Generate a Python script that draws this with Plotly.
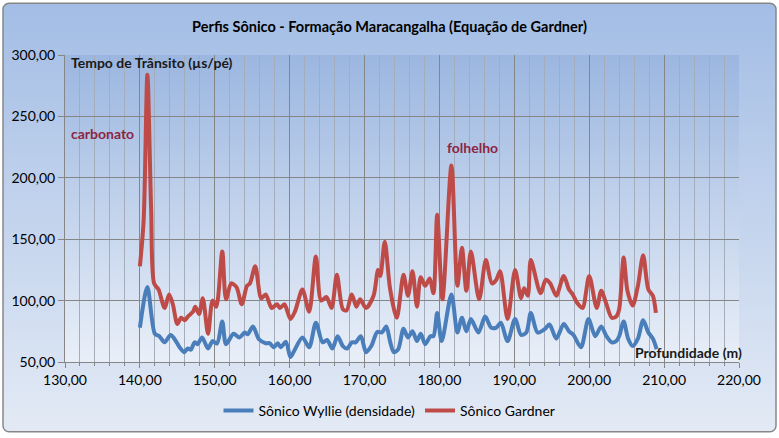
import base64
import plotly.graph_objects as go

# depth (m) and transit time (us/ft)
depth_wyllie = [140.0, 141.0, 142.0, 142.6, 143.3, 144.1, 144.6, 145.3, 145.9, 146.4, 146.8, 147.3, 147.7,
                148.3, 149.1, 149.7, 150.3, 151.0, 151.5, 152.5, 153.3, 154.0, 154.4, 155.1, 155.9, 156.8,
                157.3, 157.9, 158.4, 158.8, 159.5, 160.1, 160.6, 161.7, 162.6, 163.5, 164.4, 165.0, 165.7,
                166.4, 167.1, 167.7, 168.3, 168.8, 169.5, 170.2, 170.9, 171.7, 172.3, 172.9, 173.4, 173.9,
                174.5, 175.2, 175.8, 176.4, 177.0, 177.5, 178.1, 178.8, 179.2, 179.7, 180.3, 181.6, 182.4,
                183.0, 183.6, 184.2, 185.2, 186.1, 186.9, 187.6, 188.2, 189.1, 190.1, 190.9, 191.6, 192.2,
                193.1, 194.0, 194.7, 195.6, 196.6, 197.3, 197.9, 198.9, 199.9, 200.8, 201.6, 202.3, 203.0,
                203.6, 204.0, 204.6, 205.2, 205.8, 206.5, 207.2, 207.9, 208.5, 209.0]
wyllie = [78, 111, 73, 71, 66, 72, 69, 62, 58, 61, 60, 66, 64.5,
          70, 61, 67, 65, 83, 64.5, 73, 70, 74, 72.6, 79, 68.5, 65.3,
          65.3, 62, 65.3, 62, 66.4, 54, 59, 70, 62, 82, 66, 68, 61,
          71, 63, 61, 66, 66, 71, 58, 63, 74.5, 74, 79, 67, 58,
          60.5, 77, 70, 75, 67, 73, 64.5, 71, 71, 90, 67, 105, 74,
          86, 75, 85, 74, 87, 78, 78, 82, 67, 85, 72, 74, 90,
          74, 76.5, 80.5, 69, 81, 75, 72, 62, 85, 71, 79, 71, 66,
          67, 71, 83, 69, 63, 69, 84, 74, 69, 60.5]

depth_gardner = [140.0, 140.5, 141.0, 141.5, 141.9, 142.5, 143.3, 143.9, 144.4, 145.0, 145.5, 146.0, 146.4,
                 147.1, 147.4, 147.9, 148.4, 149.1, 149.7, 150.2, 151.0, 151.5, 152.2, 152.9, 153.6, 154.3,
                 154.7, 155.4, 156.2, 156.8, 157.6, 158.3, 158.7, 159.3, 160.1, 160.7, 161.7, 162.6, 163.5,
                 164.2, 164.9, 165.6, 166.3, 167.1, 167.6, 168.3, 168.9, 169.4, 170.2, 171.2, 171.8, 172.1,
                 172.7, 173.4, 174.3, 175.2, 175.8, 176.4, 177.0, 177.5, 178.1, 178.7, 179.2, 179.7, 180.4,
                 181.6, 182.4, 183.0, 183.6, 184.2, 185.3, 186.2, 187.0, 187.6, 188.1, 189.1, 190.1, 190.9,
                 191.3, 191.8, 192.2, 193.5, 194.2, 194.8, 195.6, 196.6, 197.3, 197.8, 198.4, 199.1, 200.0,
                 201.0, 201.6, 202.3, 203.0, 203.6, 204.0, 204.6, 205.1, 205.8, 206.5, 207.2, 207.9, 208.5,
                 208.9]
gardner = [128, 165, 284, 175, 114, 109, 94, 105, 97, 81, 86, 84, 87,
           91, 95, 89, 102, 73, 100, 95, 140, 101, 114, 111, 97, 112,
           114, 128, 102, 105, 94, 97, 94, 97, 85, 91, 109, 91, 136,
           100, 103, 94, 121, 93, 92, 105, 95, 101, 94, 104, 125, 120,
           148, 110, 86, 121, 104, 124, 95, 119, 112, 118, 106, 170, 101,
           210, 112, 143, 108, 140, 101, 133, 114, 117, 124, 85, 125, 102,
           110, 104, 133, 106, 117, 114, 104, 120, 109, 105, 98, 94, 120,
           94, 108, 97, 86, 87, 93, 135, 108, 96, 112, 137, 109, 104,
           90]

W, H = 779, 438
ml, mr, mt, mb = 65, 40, 55, 75
pw, ph = W - ml - mr, H - mt - mb

# background gradients (chart area + plot area) as an inline svg
svg = f'''<svg xmlns="http://www.w3.org/2000/svg" width="{W}" height="{H}" viewBox="0 0 {W} {H}" preserveAspectRatio="none">
<defs>
<linearGradient id="g1" x1="0" y1="0" x2="0" y2="1"><stop offset="0" stop-color="#a3bde5"/><stop offset="1" stop-color="#e3eaf5"/></linearGradient>
<linearGradient id="g2" x1="0" y1="0" x2="0" y2="1"><stop offset="0" stop-color="#9bb6e0"/><stop offset="1" stop-color="#e9eff8"/></linearGradient>
</defs>
<rect x="3" y="3" width="{W-6}" height="{H-8}" rx="6" ry="6" fill="url(#g1)" stroke="#878787" stroke-width="1.5"/>
<rect x="{ml}" y="{mt}" width="{pw}" height="{ph}" fill="url(#g2)"/>
</svg>'''
bg = 'data:image/svg+xml;base64,' + base64.b64encode(svg.encode()).decode()

fig = go.Figure()
fig.add_trace(go.Scatter(x=depth_wyllie, y=wyllie, mode='lines', name='Sônico Wyllie (densidade)',
                         line=dict(color='#4a7ebb', width=4, shape='spline', smoothing=0.8)))
fig.add_trace(go.Scatter(x=depth_gardner, y=gardner, mode='lines', name='Sônico Gardner',
                         line=dict(color='#be4b48', width=4, shape='spline', smoothing=0.8)))

fig.add_layout_image(dict(source=bg, xref='paper', yref='paper', x=-ml / pw, y=1 + mt / ph,
                          sizex=W / pw, sizey=H / ph, xanchor='left', yanchor='top',
                          sizing='stretch', layer='below'))

ann_font = dict(family='Lato', size=14)
fig.add_annotation(x=130.6, y=293.5, text='<b>Tempo de Trânsito (µs/pé)</b>', showarrow=False,
                   xanchor='left', font=dict(ann_font, color='#1a1a1a'))
fig.add_annotation(x=130.6, y=236, text='<b>carbonato</b>', showarrow=False,
                   xanchor='left', font=dict(ann_font, color='#8c2444'))
fig.add_annotation(x=180.7, y=225, text='<b>folhelho</b>', showarrow=False,
                   xanchor='left', font=dict(ann_font, color='#8c2444'))
fig.add_annotation(x=205.9, y=57.5, text='<b>Profundidade (m)</b>', showarrow=False,
                   xanchor='left', font=dict(ann_font, color='#1a1a1a'))

fig.update_layout(
    width=W, height=H,
    margin=dict(l=ml, r=mr, t=mt, b=mb),
    paper_bgcolor='rgba(0,0,0,0)', plot_bgcolor='rgba(0,0,0,0)',
    separators=',.',
    font=dict(family='Lato', size=14, color='#000000'),
    title=dict(text='<b>Perfis Sônico - Formação Maracangalha (Equação de Gardner)</b>',
               x=0.5, xref='container', xanchor='center', y=1 - 27 / H, yanchor='middle',
               font=dict(family='Lato', size=14.5, color='#000000')),
    legend=dict(orientation='h', x=(W / 2 - ml) / pw, xanchor='center', y=-(411 - (mt + ph)) / ph,
                yanchor='middle', bgcolor='rgba(0,0,0,0)', font=dict(size=14)),
    xaxis=dict(range=[130, 220], dtick=10, tickformat='.2f', showgrid=True, gridcolor='#868686',
               gridwidth=1, zeroline=False, showline=True, linecolor='#868686', ticks='outside',
               ticklen=5, tickcolor='#868686',
               minor=dict(dtick=2, showgrid=True, gridcolor='#a5adba', gridwidth=1,
                          ticks='outside', ticklen=3, tickcolor='#868686')),
    yaxis=dict(range=[50, 300], dtick=50, tickformat='.2f', showgrid=True, gridcolor='#868686',
               gridwidth=1, zeroline=False, showline=True, linecolor='#868686', ticks='outside',
               ticklen=6, tickcolor='#868686'),
)

fig.write_html('out.html', config={'displayModeBar': False},
               post_script="document.body.style.margin='0';")
